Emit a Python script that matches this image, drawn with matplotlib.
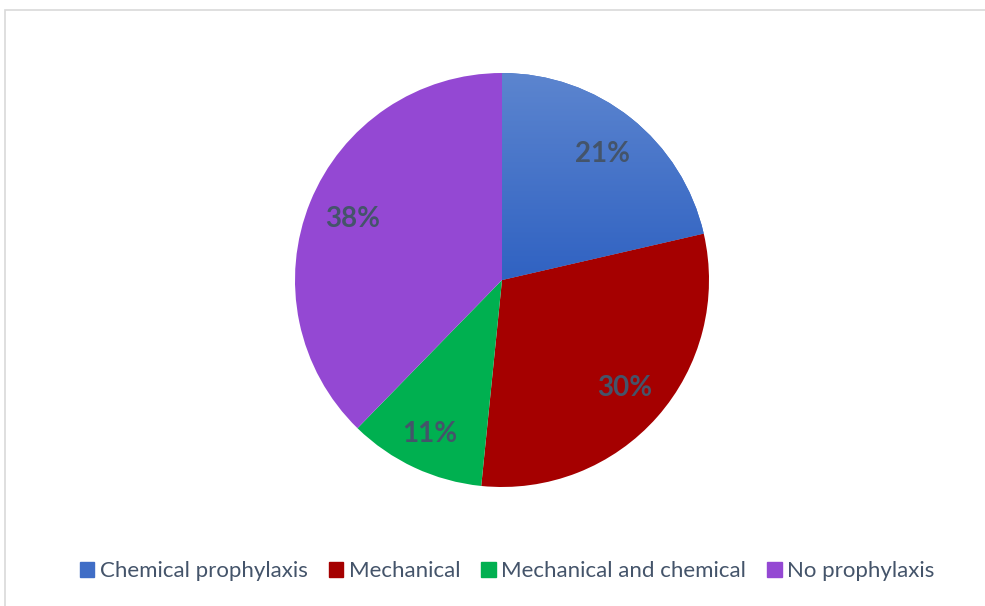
import numpy as np
import matplotlib.pyplot as plt
from matplotlib.patches import Rectangle
from matplotlib.colors import LinearSegmentedColormap

# data (slice shares, labels rounded)
labels = ['Chemical prophylaxis', 'Mechanical', 'Mechanical and chemical', 'No prophylaxis']
shares = [21.4, 30.2, 10.7, 37.7]
pct_labels = ['21%', '30%', '11%', '38%']
colors = ['#3F6DC6', '#A50000', '#00B050', '#9448D3']

plt.rcParams['font.family'] = ['Lato', 'DejaVu Sans']

fig = plt.figure(figsize=(9.85, 6.06), dpi=100)
W, H = 985, 606
cx, cy, r = 502, 280, 207

# light outer frame
fig.patches.append(Rectangle((5 / W, -0.05), 1.1, 1 - 9.5 / H + 0.05, transform=fig.transFigure,
                             fill=False, edgecolor='#D9D9D9', lw=1.2, zorder=0))

ax = fig.add_axes([(cx - r) / W, (H - cy - r) / H, 2 * r / W, 2 * r / H])
wedges, _ = ax.pie(shares, colors=colors, startangle=90, counterclock=False,
                   wedgeprops=dict(linewidth=0))
ax.set_xlim(-1, 1)
ax.set_ylim(-1, 1)

# gradient on the blue slice
grad = LinearSegmentedColormap.from_list('b', ['#3062C2', '#5C85CF'])
img = ax.imshow(np.linspace(0, 1, 256).reshape(-1, 1), cmap=grad, origin='lower',
                extent=[-1, 1, 0, 1], aspect='auto', zorder=1.5)
img.set_clip_path(wedges[0])

# percentage labels, centred on each slice
dists = [0.78, 0.79, 0.82, 0.78]
for w, lab, d in zip(wedges, pct_labels, dists):
    mid = np.deg2rad((w.theta1 + w.theta2) / 2)
    ax.text(d * np.cos(mid), d * np.sin(mid), lab, ha='center', va='center',
            color='#44546A', fontsize=20, fontweight='bold', zorder=3)

handles = [Rectangle((0, 0), 1, 1, color=c) for c in colors]
fig.legend(handles, labels, loc='center', bbox_to_anchor=(0.515, 1 - 571 / H), ncol=4,
           frameon=False, fontsize=16, handlelength=0.65, handleheight=0.65,
           handletextpad=0.25, columnspacing=0.95, labelcolor='#44546A')

fig.savefig('out.png', dpi=100)
